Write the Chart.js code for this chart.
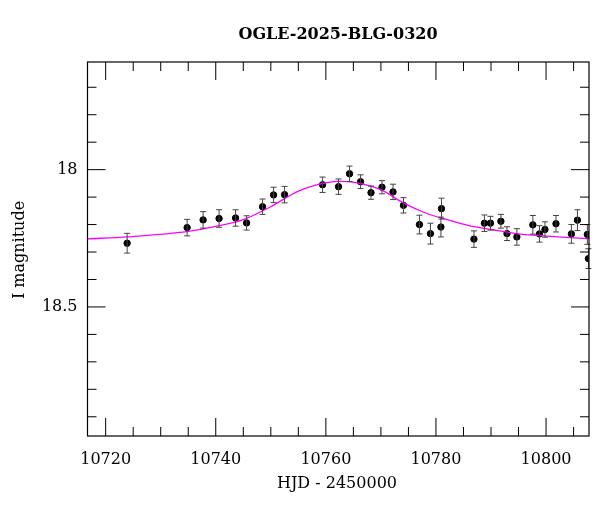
<!DOCTYPE html>
<html>
<head>
<meta charset="utf-8">
<script src="https://cdn.jsdelivr.net/npm/chart.js@4"></script>
<style>
  body { margin: 0; background: #fff; }
  #wrap { width: 600px; height: 512px; }
</style>
</head>
<body>
<div id="wrap"><canvas id="lc"></canvas></div>
<script>
// observed points (HJD - 2450000, I mag, error)
let hjd = [10723.9, 10734.8, 10737.7, 10740.6, 10743.6, 10745.6, 10748.5, 10750.5, 10752.5, 10759.4,
  10762.3, 10764.3, 10766.3, 10768.2, 10770.2, 10772.2, 10774.1, 10777.0, 10779.0, 10780.9,
  10781.0, 10786.9, 10788.8, 10789.9, 10791.8, 10792.9, 10794.7, 10797.6, 10798.8, 10799.8,
  10801.8, 10804.6, 10805.7, 10807.5, 10807.7];
let mag = [18.268, 18.211, 18.183, 18.178, 18.176, 18.194, 18.135, 18.092, 18.091, 18.055,
  18.062, 18.015, 18.044, 18.084, 18.064, 18.081, 18.130, 18.200, 18.233, 18.209,
  18.142, 18.253, 18.195, 18.195, 18.188, 18.233, 18.245, 18.201, 18.234, 18.218,
  18.197, 18.234, 18.184, 18.236, 18.324];
let magErr = [0.036, 0.03, 0.03, 0.032, 0.03, 0.026, 0.028, 0.028, 0.03, 0.028,
  0.028, 0.028, 0.025, 0.024, 0.024, 0.028, 0.028, 0.034, 0.038, 0.036,
  0.038, 0.03, 0.03, 0.025, 0.025, 0.025, 0.03, 0.034, 0.03, 0.028,
  0.03, 0.034, 0.038, 0.036, 0.036];

// model curve
let modelX = [10716.7, 10724, 10735, 10740, 10745, 10750, 10755, 10760, 10763, 10766,
  10770, 10774, 10778, 10782, 10786, 10790, 10795, 10800, 10807.8];
let modelMag = [18.252, 18.245, 18.225, 18.207, 18.182, 18.135, 18.078, 18.048, 18.043, 18.049,
  18.073, 18.12, 18.157, 18.182, 18.204, 18.218, 18.234, 18.242, 18.251];

let xLabels = [10720, 10740, 10760, 10780, 10800];
let yLabels = [18, 18.5];

let serif = "'DejaVu Serif', 'Liberation Serif', serif";

let framePlugin = {
  id: "frame",
  afterDatasetsDraw(chart) {
    let c = chart.ctx, a = chart.chartArea;
    let xs = chart.scales.x, ys = chart.scales.y;
    c.save();
    // error bars
    c.strokeStyle = "#444";
    c.lineWidth = 1;
    for (let i = 0; i < hjd.length; i++) {
      let px = xs.getPixelForValue(hjd[i]);
      if (px > a.right) continue;
      let y1 = ys.getPixelForValue(mag[i] - magErr[i]);
      let y2 = ys.getPixelForValue(mag[i] + magErr[i]);
      c.beginPath();
      c.moveTo(px, y1); c.lineTo(px, y2);
      c.moveTo(px - 3, y1); c.lineTo(px + 3, y1);
      c.moveTo(px - 3, y2); c.lineTo(px + 3, y2);
      c.stroke();
    }
    c.restore();
  },
  afterDraw(chart) {
    let c = chart.ctx, a = chart.chartArea;
    let xs = chart.scales.x, ys = chart.scales.y;
    c.save();
    c.strokeStyle = "#000";
    c.lineWidth = 1.2;
    c.strokeRect(a.left, a.top, a.right - a.left, a.bottom - a.top);
    c.lineWidth = 1;
    c.beginPath();
    for (let v = 10720; v <= 10805; v += 5) {
      let px = xs.getPixelForValue(v);
      let len = v % 20 === 0 ? 18 : 9;
      c.moveTo(px, a.bottom); c.lineTo(px, a.bottom - len);
      c.moveTo(px, a.top); c.lineTo(px, a.top + len);
    }
    for (let k = 177; k <= 189; k++) {
      let py = ys.getPixelForValue(k / 10);
      if (py < a.top || py > a.bottom) continue;
      let len = k % 5 === 0 ? 18 : 9;
      c.moveTo(a.left, py); c.lineTo(a.left + len, py);
      c.moveTo(a.right, py); c.lineTo(a.right - len, py);
    }
    c.stroke();
    // title and axis labels
    c.fillStyle = "#000";
    c.font = "bold 16px " + serif;
    c.textAlign = "center";
    c.textBaseline = "middle";
    c.fillText("OGLE-2025-BLG-0320", 338, 35);
    c.font = "16px " + serif;
    c.fillText("HJD - 2450000", 337, 484);
    c.translate(20, 250);
    c.rotate(-Math.PI / 2);
    c.fillText("I magnitude", 0, 0);
    c.restore();
  }
};

new Chart("lc", {
  type: "scatter",
  data: {
    datasets: [
      {
        label: "model",
        data: modelX.map((x, i) => ({ x: x, y: modelMag[i] })),
        showLine: true,
        borderColor: "#ff00ff",
        borderWidth: 1.3,
        pointRadius: 0,
        cubicInterpolationMode: "monotone"
      },
      {
        label: "data",
        data: hjd.map((x, i) => ({ x: x, y: mag[i] })),
        backgroundColor: "#000",
        borderColor: "#000",
        pointRadius: 3.2
      }
    ]
  },
  options: {
    responsive: true,
    maintainAspectRatio: false,
    animation: false,
    layout: { padding: { top: 62, right: 11, left: 0, bottom: 0 } },
    plugins: { legend: { display: false }, tooltip: { enabled: false } },
    scales: {
      x: {
        type: "linear",
        min: 10716.7,
        max: 10807.8,
        grid: { display: false, drawTicks: false },
        border: { display: false },
        afterBuildTicks(s) { s.ticks = xLabels.map(v => ({ value: v })); },
        afterFit(s) { s.height = 76; },
        ticks: {
          padding: 14,
          color: "#000",
          font: { family: serif, size: 16 },
          callback: v => String(v)
        }
      },
      y: {
        type: "linear",
        reverse: true,
        min: 17.608,
        max: 18.97,
        grid: { display: false, drawTicks: false },
        border: { display: false },
        afterBuildTicks(s) { s.ticks = yLabels.map(v => ({ value: v })); },
        afterFit(s) { s.width = 87.5; },
        ticks: {
          padding: 10,
          color: "#000",
          font: { family: serif, size: 16 },
          callback: v => String(v)
        }
      }
    }
  },
  plugins: [framePlugin]
});
</script>
</body>
</html>
